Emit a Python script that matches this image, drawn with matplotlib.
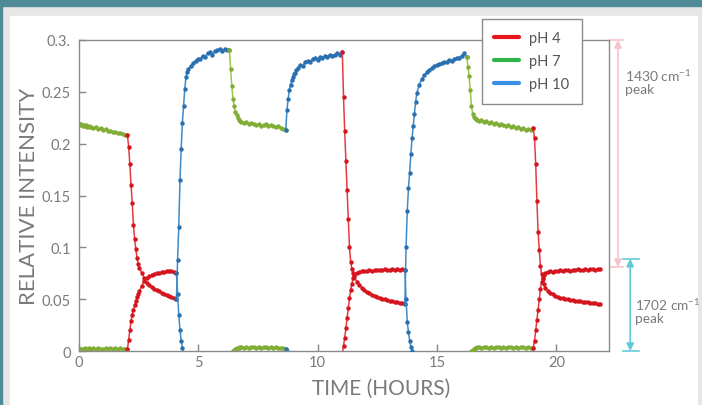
import numpy as np
import matplotlib
matplotlib.use('Agg')
import matplotlib.pyplot as plt
from matplotlib.lines import Line2D
from matplotlib.patches import Rectangle

plt.rcParams['font.family'] = ['Lato', 'DejaVu Sans']
plt.rcParams['mathtext.default'] = 'regular'

# solution switches (hours) and which buffer ran in each period
switch_times = [0.0, 2.03, 4.08, 6.30, 8.66, 11.03, 13.65, 16.24, 19.03, 21.83]
segment_ph = ['pH 7', 'pH 4', 'pH 10', 'pH 7', 'pH 10', 'pH 4', 'pH 10', 'pH 7', 'pH 4']

# 1430 cm-1 peak, per period (first 10 points every 3 min, then ~6 min)
s1_1430 = [0.219, 0.218, 0.219, 0.217, 0.218, 0.217, 0.218, 0.216, 0.217, 0.216,
           0.216, 0.215, 0.216, 0.214, 0.215, 0.213, 0.214, 0.212, 0.212, 0.211,
           0.211, 0.210, 0.210, 0.209, 0.208, 0.208]
s2_1430 = [0.208, 0.197, 0.180, 0.160, 0.143, 0.122, 0.108, 0.098, 0.090, 0.084,
           0.080, 0.075, 0.070, 0.066, 0.064, 0.062, 0.060, 0.059, 0.058, 0.056,
           0.055, 0.054, 0.053, 0.052, 0.051, 0.050]
s3_1430 = [0.050, 0.088, 0.120, 0.165, 0.195, 0.220, 0.236, 0.253, 0.264, 0.269,
           0.272, 0.275, 0.278, 0.280, 0.282, 0.282, 0.285, 0.284, 0.287, 0.288,
           0.286, 0.289, 0.290, 0.291, 0.289, 0.291, 0.290, 0.290]
s4_1430 = [0.290, 0.272, 0.256, 0.243, 0.236, 0.231, 0.228, 0.225, 0.223, 0.222,
           0.221, 0.220, 0.221, 0.219, 0.220, 0.219, 0.218, 0.219, 0.217, 0.218,
           0.219, 0.217, 0.218, 0.217, 0.216, 0.217, 0.215, 0.214, 0.213]
s5_1430 = [0.213, 0.232, 0.243, 0.252, 0.257, 0.261, 0.264, 0.267, 0.268, 0.271,
           0.273, 0.276, 0.275, 0.279, 0.280, 0.279, 0.282, 0.283, 0.281, 0.284,
           0.283, 0.285, 0.284, 0.286, 0.285, 0.286, 0.287, 0.286, 0.288]
s6_1430 = [0.288, 0.245, 0.212, 0.183, 0.155, 0.127, 0.100, 0.086, 0.079, 0.075,
           0.071, 0.067, 0.064, 0.061, 0.059, 0.057, 0.056, 0.054, 0.053, 0.052,
           0.051, 0.050, 0.050, 0.049, 0.048, 0.048, 0.047, 0.047, 0.046, 0.046,
           0.045]
s7_1430 = [0.045, 0.100, 0.135, 0.157, 0.172, 0.190, 0.205, 0.217, 0.229, 0.240,
           0.249, 0.257, 0.262, 0.266, 0.269, 0.271, 0.273, 0.275, 0.276, 0.277,
           0.278, 0.279, 0.279, 0.281, 0.280, 0.282, 0.283, 0.283, 0.285, 0.287,
           0.284]
s8_1430 = [0.284, 0.274, 0.265, 0.252, 0.236, 0.229, 0.226, 0.225, 0.224, 0.223,
           0.222, 0.223, 0.221, 0.222, 0.220, 0.221, 0.219, 0.220, 0.218, 0.219,
           0.218, 0.217, 0.218, 0.216, 0.217, 0.215, 0.216, 0.214, 0.215, 0.213,
           0.214, 0.213, 0.215]
s9_1430 = [0.215, 0.205, 0.180, 0.145, 0.115, 0.097, 0.082, 0.074, 0.069, 0.065,
           0.061, 0.058, 0.056, 0.055, 0.053, 0.052, 0.051, 0.051, 0.050, 0.050,
           0.049, 0.049, 0.048, 0.048, 0.048, 0.047, 0.047, 0.047, 0.046, 0.046,
           0.046, 0.045, 0.045]

# 1702 cm-1 peak, same sampling
s1_1702 = [0.001, 0.002, 0.002, 0.002, 0.002, 0.003, 0.002, 0.002, 0.003, 0.002,
           0.002, 0.003, 0.002, 0.003, 0.002, 0.002, 0.003, 0.002, 0.003, 0.002,
           0.003, 0.002, 0.003, 0.002, 0.002, 0.002]
s2_1702 = [0.002, 0.011, 0.020, 0.029, 0.035, 0.040, 0.044, 0.048, 0.052, 0.055,
           0.058, 0.063, 0.068, 0.070, 0.072, 0.073, 0.074, 0.075, 0.075, 0.076,
           0.076, 0.077, 0.077, 0.077, 0.076, 0.075]
s3_1702 = [0.075, 0.055, 0.035, 0.020, 0.010, 0.003, -0.002, -0.003, -0.003, -0.003,
           -0.003, -0.003, -0.003, -0.003, -0.003, -0.003, -0.003, -0.003, -0.003, -0.003,
           -0.003, -0.003, -0.003, -0.003, -0.003, -0.003, -0.003, -0.003]
s4_1702 = [-0.003, -0.003, -0.001, 0.000, 0.001, 0.002, 0.003, 0.003, 0.003, 0.004,
           0.004, 0.003, 0.004, 0.003, 0.004, 0.004, 0.003, 0.004, 0.003, 0.004,
           0.004, 0.003, 0.004, 0.003, 0.004, 0.003, 0.003, 0.003, 0.002]
s5_1702 = [0.002, 0.000, -0.002, -0.003, -0.003, -0.003, -0.003, -0.003, -0.003, -0.003,
           -0.003, -0.003, -0.003, -0.003, -0.003, -0.003, -0.003, -0.003, -0.003, -0.003,
           -0.003, -0.003, -0.003, -0.003, -0.003, -0.003, -0.003, -0.003, -0.003]
s6_1702 = [-0.003, 0.005, 0.013, 0.022, 0.032, 0.041, 0.051, 0.059, 0.065, 0.070,
           0.073, 0.075, 0.076, 0.077, 0.077, 0.077, 0.078, 0.077, 0.078, 0.078,
           0.078, 0.078, 0.079, 0.078, 0.078, 0.079, 0.078, 0.079, 0.078, 0.079,
           0.078]
s7_1702 = [0.078, 0.050, 0.028, 0.018, 0.010, 0.004, 0.000, -0.003, -0.003, -0.003,
           -0.003, -0.003, -0.003, -0.003, -0.003, -0.003, -0.003, -0.003, -0.003, -0.003,
           -0.003, -0.003, -0.003, -0.003, -0.003, -0.003, -0.003, -0.003, -0.003, -0.003,
           -0.003]
s8_1702 = [-0.003, -0.003, -0.003, -0.002, 0.000, 0.001, 0.002, 0.003, 0.003, 0.004,
           0.004, 0.003, 0.004, 0.004, 0.003, 0.004, 0.003, 0.004, 0.004, 0.003,
           0.004, 0.003, 0.004, 0.004, 0.003, 0.004, 0.003, 0.004, 0.004, 0.003,
           0.004, 0.003, 0.003]
s9_1702 = [0.003, 0.010, 0.020, 0.030, 0.040, 0.050, 0.060, 0.067, 0.070, 0.073,
           0.075, 0.076, 0.077, 0.076, 0.077, 0.077, 0.078, 0.077, 0.078, 0.078,
           0.077, 0.078, 0.078, 0.079, 0.078, 0.078, 0.079, 0.078, 0.079, 0.079,
           0.078, 0.079, 0.079]

peak_1430 = [s1_1430, s2_1430, s3_1430, s4_1430, s5_1430, s6_1430, s7_1430, s8_1430, s9_1430]
peak_1702 = [s1_1702, s2_1702, s3_1702, s4_1702, s5_1702, s6_1702, s7_1702, s8_1702, s9_1702]

ph_labels = ['pH 4', 'pH 7', 'pH 10']
line_col = {'pH 4': '#e53a40', 'pH 7': '#9cc64c', 'pH 10': '#3f8bc9'}
mark_col = {'pH 4': '#d4141e', 'pH 7': '#80ad36', 'pH 10': '#2a70b0'}
legend_col = {'pH 4': '#e8141c', 'pH 7': '#2fb54a', 'pH 10': '#3a8fe2'}

y_ticks = [0, 0.05, 0.1, 0.15, 0.2, 0.25, 0.3]
y_ticklabels = ['0', '0.05', '0.1', '0.15', '0.2', '0.25', '0.3.']
x_ticks = [0, 5, 10, 15, 20]


def seg_times(t0, t1, n):
    fast = t0 + 0.05 * np.arange(10)
    slow = np.linspace(t0 + 0.5, t1, n - 10)
    return np.concatenate([fast, slow])


W, H = 702, 406
fig = plt.figure(figsize=(W / 100, H / 100), dpi=100)

# page frame
fig.patches.append(Rectangle((0, 0), 1, 1, transform=fig.transFigure, color='#e6e6e6', zorder=-3))
fig.patches.append(Rectangle((10 / W, 0), (697 - 10) / W, (H - 17) / H, transform=fig.transFigure,
                             color='white', zorder=-2))
fig.patches.append(Rectangle((0, 1 - 7 / H), 1, 7 / H, transform=fig.transFigure, color='#4f8b97', zorder=-1))
fig.patches.append(Rectangle((0, 0), 2 / W, 1, transform=fig.transFigure, color='#4f8b97', zorder=-1))

ax = fig.add_axes([79 / W, 1 - 352 / H, (609 - 79) / W, (352 - 41) / H])
ax.set_facecolor('none')

for i in range(len(segment_ph)):
    ph = segment_ph[i]
    for vals in (peak_1430[i], peak_1702[i]):
        t = seg_times(switch_times[i], switch_times[i + 1], len(vals))
        ax.plot(t, vals, color=line_col[ph], lw=1.1, marker='o', ms=3.2,
                mfc=mark_col[ph], mec=mark_col[ph], mew=0, zorder=2 + i * 0.1)

ax.set_xlim(0, 22.2)
ax.set_ylim(0, 0.3)
ax.set_xticks(x_ticks)
ax.set_yticks(y_ticks)
ax.set_yticklabels(y_ticklabels)
ax.tick_params(direction='in', length=5, width=1, color='#888888', labelcolor='#7a7a7a',
               labelsize=10.5)
ax.tick_params(axis='y', pad=6)
ax.tick_params(axis='x', pad=3)
for sp in ax.spines.values():
    sp.set_color('#8a8a8a')
    sp.set_linewidth(1)

ax.set_ylabel('RELATIVE INTENSITY', fontsize=16, color='#7a7a7a', labelpad=2)
ax.set_xlabel('TIME (HOURS)', fontsize=15, color='#7a7a7a', labelpad=8)
ax.xaxis.set_label_coords(0.57, -0.085)

handles = [Line2D([0], [0], color=legend_col[p], lw=3, solid_capstyle='round') for p in ph_labels]
leg = ax.legend(handles, ph_labels, loc='upper left', bbox_to_anchor=(482 / W, 1 - 20 / H),
                bbox_transform=fig.transFigure, borderaxespad=0, fancybox=False,
                edgecolor='#8a8a8a', framealpha=1, fontsize=10.5, handlelength=1.7,
                handletextpad=0.7, labelspacing=0.62, borderpad=0.85)
leg.get_frame().set_linewidth(1)
for txt in leg.get_texts():
    txt.set_color('#555555')
leg.set_zorder(10)

# peak range markers to the right of the plot
tr = ax.get_yaxis_transform()
pink = '#f6c3cb'
cyan = '#62c9d7'
ax.annotate('', xy=(1.017, 0.3), xytext=(1.017, 0.081), xycoords=tr, textcoords=tr,
            arrowprops=dict(arrowstyle='<|-|>', color=pink, lw=1.2, mutation_scale=11,
                            shrinkA=0, shrinkB=0))
ax.plot([1.002, 1.026], [0.3, 0.3], color=pink, lw=1.2, transform=tr, clip_on=False)
ax.plot([1.002, 1.026], [0.081, 0.081], color=pink, lw=1.2, transform=tr, clip_on=False)
ax.annotate('', xy=(1.040, 0.089), xytext=(1.040, 0.0), xycoords=tr, textcoords=tr,
            arrowprops=dict(arrowstyle='<|-|>', color=cyan, lw=1.2, mutation_scale=11,
                            shrinkA=0, shrinkB=0))
ax.plot([1.026, 1.057], [0.089, 0.089], color=cyan, lw=1.2, transform=tr, clip_on=False)
ax.plot([1.026, 1.057], [0.0, 0.0], color=cyan, lw=1.2, transform=tr, clip_on=False)

ax.text(1.030, 0.274, '1430 cm$^{-1}$\npeak', transform=tr, fontsize=10, color='#7a7a7a',
        va='top', ha='left', linespacing=1.0)
ax.text(1.050, 0.053, '1702 cm$^{-1}$\npeak', transform=tr, fontsize=9.8, color='#7a7a7a',
        va='top', ha='left', linespacing=1.0)

fig.savefig('out.png', dpi=100)
